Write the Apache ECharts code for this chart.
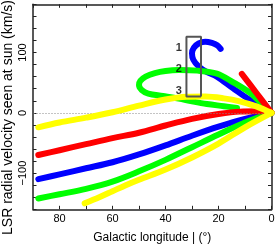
<!DOCTYPE html>
<html><head><meta charset="utf-8">
<script src="https://cdn.jsdelivr.net/npm/echarts@6/dist/echarts.min.js"></script>
<style>html,body{margin:0;padding:0;background:#fff}#c{width:277px;height:246px}</style>
</head><body><div id="c"></div>
<script>
// tick labels
const xTickLabels = [0, 20, 40, 60, 80];
const yTickLabels = [-100, 0, 100];
const xTitle = 'Galactic longitude | (\u00b0)';
const yTitle = 'LSR radial velocity seen at sun (km/s)';
// curves: [galactic longitude (deg), LSR velocity (km/s)]
const yellowLow = [[70.5,-150],[65,-140],[60,-130],[55,-120],[50,-111],[40,-94],[30,-74],[20,-51],[10,-24],[0,0]];
const greenLow  = [[88,-142],[80,-135],[70,-126],[60,-114],[50,-97],[40,-78],[30,-57],[20,-36],[10,-16],[0,0]];
const blueLow   = [[88,-110],[80,-102],[70,-92],[60,-82],[50,-69],[40,-54],[30,-38],[20,-23],[10,-10],[0,0]];
const redLow    = [[88,-70],[80,-62],[70,-52],[60,-42],[50,-33],[40,-21],[30,-10],[20,-2],[12,2],[5,2.5],[0,0]];
const yellowUp  = [[88,-24],[80,-16],[70,-8],[60,1],[50,12],[40,22],[32,26.5],[25,27],[18,24],[12,19],[6,11],[0,0]];
const greenLoop = [[0,0],[3.2,13],[8.1,33],[14.6,51],[20.6,65],[28,70],[35,71],[40,69.5],[44,66],[47.5,60],[49.5,53],[50,46],[49,38],[46.5,32],[41,28],[35,23.5],[30,19],[24.4,14.6],[18,11],[13,8]];
const blueHook  = [[0,0],[1.7,6],[8,21],[14.6,41],[20.6,60],[24.5,68],[27.5,77],[29.5,88],[30,99],[29.3,108],[27.5,115],[25,118],[22.5,116],[20.5,112],[19.2,106]];
const redShort  = [[0,0],[5.6,32.5],[11.2,64.5]];
// highlighted box and its labels
const boxL = [26.6, 32.1];
const boxV = [27, 126];
const marks = [["1", 35, 107], ["2", 35, 72], ["3", 35, 37]];

const boxData = [[boxL[0],boxV[0]],[boxL[1],boxV[0]],[boxL[1],boxV[1]],[boxL[0],boxV[1]],[boxL[0],boxV[0]]];

const chart = echarts.init(document.getElementById('c'), null, {renderer:'canvas'});
const axisLine = {show:true, onZero:false, lineStyle:{color:'#222', width:1.5}};
const tick = {show:true, inside:true, length:3.5, lineStyle:{color:'#222', width:1}};
const fmtY = v => yTickLabels.includes(v) ? (v < 0 ? '\u2212' + (-v) : String(v)) : '';
const fmtX = v => xTickLabels.includes(v) ? String(v) : '';
function line(data, color, z) {
  return {type:'line', data, showSymbol:false, symbol:'none', smooth:0.35, z,
    lineStyle:{color, width:6, cap:'round', join:'round'}, silent:true, animation:false};
}
chart.setOption({
  animation:false,
  grid:{left:33, right:5.5, top:4.3, bottom:36.7, containLabel:false, outerBoundsMode:'none'},
  textStyle:{fontFamily:'Liberation Sans, Arial, sans-serif'},
  graphic:[{type:'text', x:8, y:117.5, rotation:Math.PI/2, silent:true,
    style:{text:yTitle, fill:'#000', fontSize:14, fontFamily:'Liberation Sans, Arial, sans-serif',
      align:'center', verticalAlign:'middle'}}],
  xAxis:[{type:'value', min:0, max:90, interval:10, inverse:true, position:'bottom',
      axisLine, axisTick:tick, splitLine:{show:false},
      axisLabel:{formatter:fmtX, color:'#000', fontSize:11, margin:4, showMaxLabel:false},
      name:xTitle, nameLocation:'middle', nameGap:22,
      nameTextStyle:{color:'#000', fontSize:12}},
    {type:'value', min:0, max:90, interval:10, inverse:true, position:'top',
      axisLine, axisTick:tick, axisLabel:{show:false}, splitLine:{show:false}}],
  yAxis:[{type:'value', min:-160, max:180, interval:20, position:'left',
      axisLine, axisTick:tick, splitLine:{show:false},
      axisLabel:{formatter:fmtY, color:'#000', fontSize:11, rotate:90, margin:5}},
    {type:'value', min:-160, max:180, interval:20, position:'right',
      axisLine, axisTick:tick, axisLabel:{show:false}, splitLine:{show:false}}],
  series:[
    {type:'line', data:[], z:1, silent:true,
      markLine:{silent:true, symbol:'none', label:{show:false}, animation:false,
        lineStyle:{type:[1,2], color:'#888', width:1}, data:[{yAxis:0}]}},
    line(blueLow, '#0000ff', 2),
    line(blueHook, '#0000ff', 2),
    line(greenLow, '#00ff00', 3),
    line(greenLoop, '#00ff00', 3),
    line(redLow, '#ff0000', 4),
    line(redShort, '#ff0000', 4),
    line(yellowLow, '#ffff00', 5),
    line(yellowUp, '#ffff00', 5),
    {type:'line', data:boxData, symbol:'none', z:6, silent:true,
      lineStyle:{color:'#555', width:2}},
    {type:'scatter', data:marks.map(m => [m[1], m[2], m[0]]), symbolSize:0, z:7, silent:true,
      label:{show:true, position:'inside', formatter:p => p.data[2], color:'#000', fontSize:11, fontWeight:'bold', fontFamily:'Liberation Sans'}}
  ]
});
</script></body></html>
